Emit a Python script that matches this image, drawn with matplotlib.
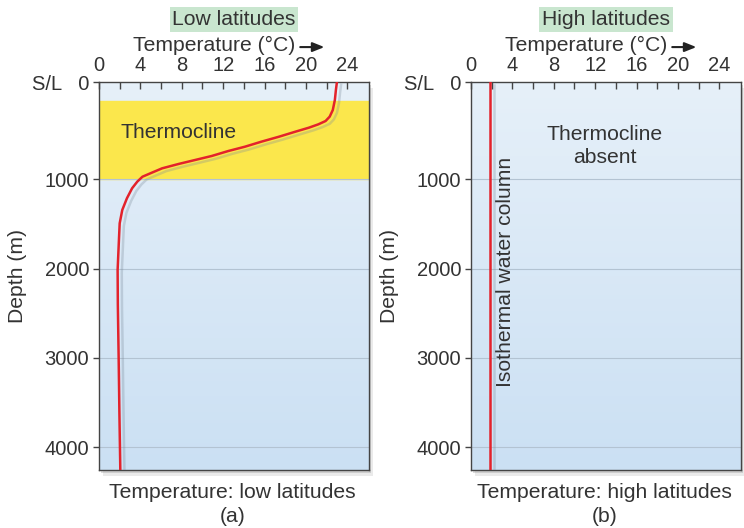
import numpy as np
import matplotlib
matplotlib.use("Agg")
import matplotlib.pyplot as plt
import matplotlib.patheffects as pe
from matplotlib.patches import Rectangle

plt.rcParams['font.family'] = ['Liberation Sans', 'DejaVu Sans']

# Low latitude temperature profile
low_temp = [23.0, 22.9, 22.8, 22.6, 22.3, 21.9, 21.2, 20.3, 19.0, 17.4, 15.7, 14.1, 12.5, 10.9,
            9.3, 7.7, 6.1, 5.1, 4.2, 3.7, 3.2, 2.7, 2.25, 2.0, 1.94, 1.87, 1.8, 1.82, 1.9, 1.97, 2.06]
low_depth = [0, 82, 185, 288, 356, 401, 435, 469, 510, 562, 613, 665, 709, 760,
             801, 842, 887, 932, 973, 1026, 1100, 1212, 1343, 1492, 1642, 1828, 2015, 2400, 3000, 3600, 4255]

# High latitude: isothermal column
high_temp = [1.8, 1.8]
high_depth = [0, 4255]

thermocline_top = 200
thermocline_bottom = 1000

temp_ticks = [0, 4, 8, 12, 16, 20, 24]
temp_minor = [2, 6, 10, 14, 18, 22]
depth_ticks = [0, 1000, 2000, 3000, 4000]
depth_labels = ['S/L   0', '1000', '2000', '3000', '4000']

panels = [
    ("Low latitudes", "Temperature: low latitudes", "(a)", low_temp, low_depth),
    ("High latitudes", "Temperature: high latitudes", "(b)", high_temp, high_depth),
]

TXT = '#333333'
FS = 15.2
TFS = 14.5


# the original drawing stretches the top 1000 m a little
def fwd(d):
    d = np.asarray(d, dtype=float)
    return np.where(d < 1000, d * 1.09, d + 90)


def inv(u):
    u = np.asarray(u, dtype=float)
    return np.where(u < 1090, u / 1.09, u - 90)


fig = plt.figure(figsize=(7.44, 5.28), dpi=100)

lefts = [99 / 744, 471 / 744]
bottom, width, height = 1 - 470 / 528, 270 / 744, 388 / 528
for i, (title, bottom_txt, letter, temps, depths) in enumerate(panels):
    ax = fig.add_axes([lefts[i], bottom, width, height])
    ax.set_zorder(2)

    # drop shadow behind the panel (two layers for a softer edge)
    for off, a in [(0.006, 0.2), (0.003, 0.35)]:
        fig.patches.append(Rectangle((lefts[i] + off, bottom - 2 * off), width, height,
                                     transform=fig.transFigure, facecolor='#999999', alpha=a,
                                     edgecolor='none', zorder=0))

    ax.set_yscale('function', functions=(fwd, inv))
    ax.set_xlim(0, 26.1)
    ax.set_ylim(4255, 0)

    # blue background gradient
    grad = np.linspace(0, 1, 100).reshape(-1, 1)
    cmap = matplotlib.colors.LinearSegmentedColormap.from_list('bg', ['#e6f0f9', '#cbe0f3'])
    ax.imshow(grad, extent=[0, 1, 0, 1], transform=ax.transAxes, cmap=cmap,
              aspect='auto', zorder=0, origin='upper')

    if i == 0:
        ax.axhspan(thermocline_top, thermocline_bottom, color='#fbe74c', zorder=1)
        ax.text(0.078, 0.869, "Thermocline", transform=ax.transAxes, fontsize=FS, color=TXT,
                va='center', ha='left', zorder=3)
    else:
        ax.text(0.496, 0.835, "Thermocline\nabsent", transform=ax.transAxes, fontsize=FS, color=TXT,
                ha='center', va='center', linespacing=1.3, zorder=3)
        ax.text(0.126, 0.51, "Isothermal water column", transform=ax.transAxes, rotation=90,
                fontsize=FS, color=TXT, ha='center', va='center', zorder=3)

    for d in depth_ticks[1:]:
        ax.axhline(d, color='#b3c3d2', linewidth=0.8, zorder=1.5)

    ax.plot(temps, depths, color='#e3222b', linewidth=1.8, zorder=4,
            path_effects=[pe.SimpleLineShadow(offset=(3, -2), shadow_color='#7a8a99', alpha=0.3),
                          pe.Normal()])

    ax.xaxis.tick_top()
    ax.set_xticks(temp_ticks)
    ax.set_xticks(temp_minor, minor=True)
    ax.tick_params(axis='x', which='both', direction='in', length=5, width=1, color='#444444',
                   labelsize=TFS, labelcolor=TXT, pad=5)
    ax.set_yticks(depth_ticks)
    ax.set_yticklabels(depth_labels)
    ax.yaxis.set_minor_locator(matplotlib.ticker.NullLocator())
    ax.tick_params(axis='y', direction='out', length=4, width=1, color='#444444',
                   labelsize=TFS, labelcolor=TXT, pad=3)
    for s in ax.spines.values():
        s.set_color('#444444')
        s.set_linewidth(1.0)

    ax.set_ylabel("Depth (m)", fontsize=FS, color=TXT)
    ax.yaxis.set_label_coords(-0.265, 0.5)

    ax.text(0.5, 1.161, title, transform=ax.transAxes, fontsize=FS, color=TXT, ha='center', va='center',
            bbox=dict(boxstyle='square,pad=0.12', facecolor='#c9e6cf', edgecolor='none'))
    ax.text(0.425, 1.095, "Temperature (°C)", transform=ax.transAxes, fontsize=FS, color=TXT,
            ha='center', va='center')
    ax.annotate("", xy=(0.845, 1.09), xytext=(0.735, 1.09), xycoords='axes fraction',
                arrowprops=dict(arrowstyle='-|>,head_length=0.7,head_width=0.28', color='#222222', lw=1.5))

    ax.text(0.495, -0.058, bottom_txt, transform=ax.transAxes, fontsize=FS, color=TXT,
            ha='center', va='center')
    ax.text(0.495, -0.12, letter, transform=ax.transAxes, fontsize=FS, color=TXT,
            ha='center', va='center')

fig.savefig("out.png", dpi=100)
